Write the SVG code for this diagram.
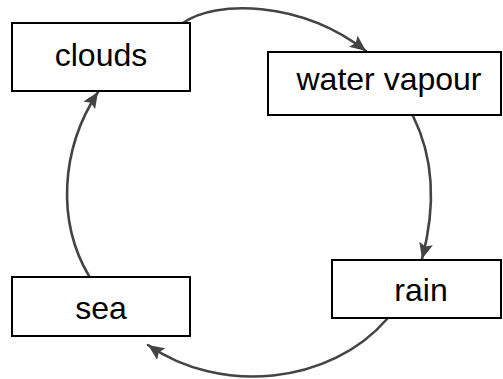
<svg xmlns="http://www.w3.org/2000/svg" width="503" height="379" viewBox="0 0 503 379">
  <style>
    .box { fill: #ffffff; stroke: #000000; stroke-width: 2; }
    .label { font-family: "Liberation Sans", Arial, sans-serif; font-size: 32px; fill: #000000; text-anchor: middle; }
    .arc { fill: none; stroke: #444444; stroke-width: 2.6; stroke-linecap: round; marker-end: url(#head); }
  </style>
  <defs>
    <marker id="head" markerUnits="userSpaceOnUse" markerWidth="17" markerHeight="14" refX="16" refY="7" orient="auto">
      <path d="M0,0 L16,7 L0,14 L3,7 z" fill="#444444"/>
    </marker>
  </defs>

  <rect width="503" height="379" fill="#ffffff"/>

  <!-- cycle connectors -->
  <g id="connectors">
    <path class="arc" d="M183,23 C215,0 300,0 366,51"/>
    <path class="arc" d="M413,116 C435,160 435,210 422,259"/>
    <path class="arc" d="M387,319 C330,385 220,395 148,345"/>
    <path class="arc" d="M89,276 C57,222 60,150 98,92"/>
  </g>

  <g id="clouds">
    <rect class="box" x="12" y="23" width="178" height="68"/>
    <text class="label" x="101" y="66">clouds</text>
  </g>

  <g id="water-vapour">
    <rect class="box" x="268" y="52" width="233" height="63"/>
    <text class="label" x="389" y="90">water vapour</text>
  </g>

  <g id="rain">
    <rect class="box" x="332" y="260" width="169" height="58"/>
    <text class="label" x="421" y="301">rain</text>
  </g>

  <g id="sea">
    <rect class="box" x="12" y="277" width="178" height="59"/>
    <text class="label" x="101" y="319">sea</text>
  </g>
</svg>
